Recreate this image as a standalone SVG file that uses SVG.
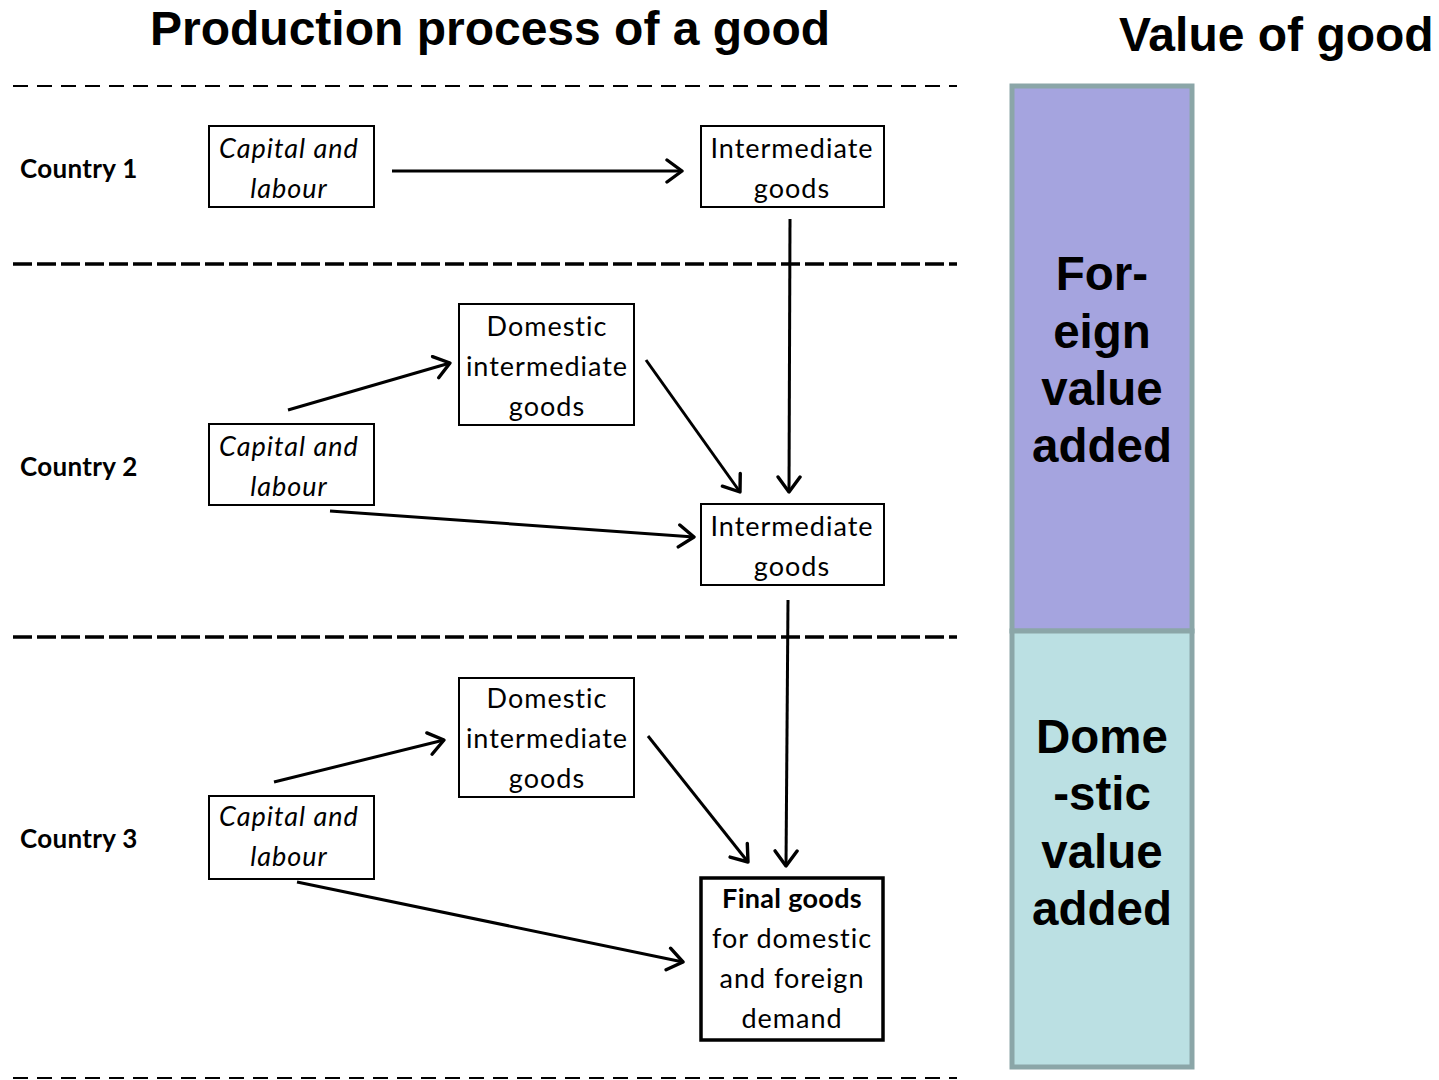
<svg xmlns="http://www.w3.org/2000/svg" width="1439" height="1080" viewBox="0 0 1439 1080">
  <style>
    .title { font-family: "Liberation Sans", Arial, sans-serif; font-weight: bold; font-size: 48px; fill: #000; }
    .bar { font-family: "Liberation Sans", Arial, sans-serif; font-weight: bold; font-size: 47.5px; fill: #000; text-anchor: middle; }
    .country { font-family: Lato, "Noto Sans", sans-serif; font-weight: bold; font-size: 26px; letter-spacing: 0.3px; fill: #000; }
    .lbl { font-family: Lato, "Noto Sans", sans-serif; font-size: 27px; letter-spacing: 1px; fill: #000; text-anchor: middle; }
    .it { font-style: italic; }
    .b { font-weight: bold; letter-spacing: 0.3px; }
    .box { fill: #fff; stroke: #000; stroke-width: 2; }
    .thick { stroke-width: 3.5; }
    .sepThin { stroke: #000; stroke-width: 2; stroke-dasharray: 15 9; fill: none; }
    .sepThick { stroke: #000; stroke-width: 3.5; stroke-dasharray: 19 5; fill: none; }
    .arrow { stroke: #000; stroke-width: 3; fill: none; marker-end: url(#head); }
  </style>
  <defs>
    <marker id="head" markerUnits="userSpaceOnUse" markerWidth="24" markerHeight="28" refX="17" refY="13" orient="auto">
      <path d="M2,2 L17,13 L2,24" fill="none" stroke="#000" stroke-width="3.4" stroke-linecap="round" stroke-linejoin="round"/>
    </marker>
  </defs>

  <rect width="1439" height="1080" fill="#fff"/>

  <!-- headings -->
  <text class="title" x="150" y="45">Production process of a good</text>
  <text class="title" x="1119" y="51">Value of good</text>

  <!-- country separators -->
  <g id="separators">
    <line class="sepThin" x1="13" y1="86" x2="957" y2="86"/>
    <line class="sepThick" x1="13" y1="264" x2="957" y2="264"/>
    <line class="sepThick" x1="13" y1="637" x2="957" y2="637"/>
    <line class="sepThin" x1="13" y1="1078" x2="957" y2="1078"/>
  </g>

  <!-- value bar -->
  <g id="value-bar">
    <rect x="1012" y="86" width="180" height="545" fill="#a5a4df" stroke="#8ba6a8" stroke-width="5"/>
    <rect x="1012" y="631" width="180" height="436" fill="#bbe0e3" stroke="#8ba6a8" stroke-width="5"/>
    <text class="bar" x="1102" y="290">For-</text>
    <text class="bar" x="1102" y="348">eign</text>
    <text class="bar" x="1102" y="405">value</text>
    <text class="bar" x="1102" y="462">added</text>
    <text class="bar" x="1102" y="753">Dome</text>
    <text class="bar" x="1102" y="810">-stic</text>
    <text class="bar" x="1102" y="868">value</text>
    <text class="bar" x="1102" y="925">added</text>
  </g>

  <!-- country labels -->
  <text class="country" x="20" y="178">Country 1</text>
  <text class="country" x="20" y="476">Country 2</text>
  <text class="country" x="20" y="848">Country 3</text>

  <!-- Country 1 -->
  <g id="c1-capital">
    <rect class="box" x="209" y="126" width="165" height="81"/>
    <text class="lbl it" x="289" y="158">Capital and</text>
    <text class="lbl it" x="289" y="198">labour</text>
  </g>
  <g id="c1-intermediate">
    <rect class="box" x="701" y="126" width="183" height="81"/>
    <text class="lbl" x="792" y="158">Intermediate</text>
    <text class="lbl" x="792" y="198">goods</text>
  </g>

  <!-- Country 2 -->
  <g id="c2-domestic">
    <rect class="box" x="459" y="304" width="175" height="121"/>
    <text class="lbl" x="547" y="336">Domestic</text>
    <text class="lbl" x="547" y="376">intermediate</text>
    <text class="lbl" x="547" y="416">goods</text>
  </g>
  <g id="c2-capital">
    <rect class="box" x="209" y="424" width="165" height="81"/>
    <text class="lbl it" x="289" y="456">Capital and</text>
    <text class="lbl it" x="289" y="496">labour</text>
  </g>
  <g id="c2-intermediate">
    <rect class="box" x="701" y="504" width="183" height="81"/>
    <text class="lbl" x="792" y="536">Intermediate</text>
    <text class="lbl" x="792" y="576">goods</text>
  </g>

  <!-- Country 3 -->
  <g id="c3-domestic">
    <rect class="box" x="459" y="678" width="175" height="119"/>
    <text class="lbl" x="547" y="708">Domestic</text>
    <text class="lbl" x="547" y="748">intermediate</text>
    <text class="lbl" x="547" y="788">goods</text>
  </g>
  <g id="c3-capital">
    <rect class="box" x="209" y="796" width="165" height="83"/>
    <text class="lbl it" x="289" y="826">Capital and</text>
    <text class="lbl it" x="289" y="866">labour</text>
  </g>
  <g id="c3-final">
    <rect class="box thick" x="701" y="878" width="182" height="162"/>
    <text class="lbl b" x="792" y="908">Final goods</text>
    <text class="lbl" x="792" y="948">for domestic</text>
    <text class="lbl" x="792" y="988">and foreign</text>
    <text class="lbl" x="792" y="1028">demand</text>
  </g>

  <!-- flows -->
  <g id="connectors">
    <line class="arrow" x1="392" y1="171" x2="682" y2="171"/>
    <line class="arrow" x1="790" y1="219" x2="789" y2="492"/>
    <line class="arrow" x1="288" y1="410" x2="450" y2="363"/>
    <line class="arrow" x1="646" y1="360" x2="740" y2="492"/>
    <line class="arrow" x1="330" y1="511" x2="694" y2="537"/>
    <line class="arrow" x1="788" y1="600" x2="786" y2="866"/>
    <line class="arrow" x1="274" y1="782" x2="444" y2="740"/>
    <line class="arrow" x1="648" y1="736" x2="748" y2="862"/>
    <line class="arrow" x1="297" y1="882" x2="683" y2="962"/>
  </g>
</svg>
